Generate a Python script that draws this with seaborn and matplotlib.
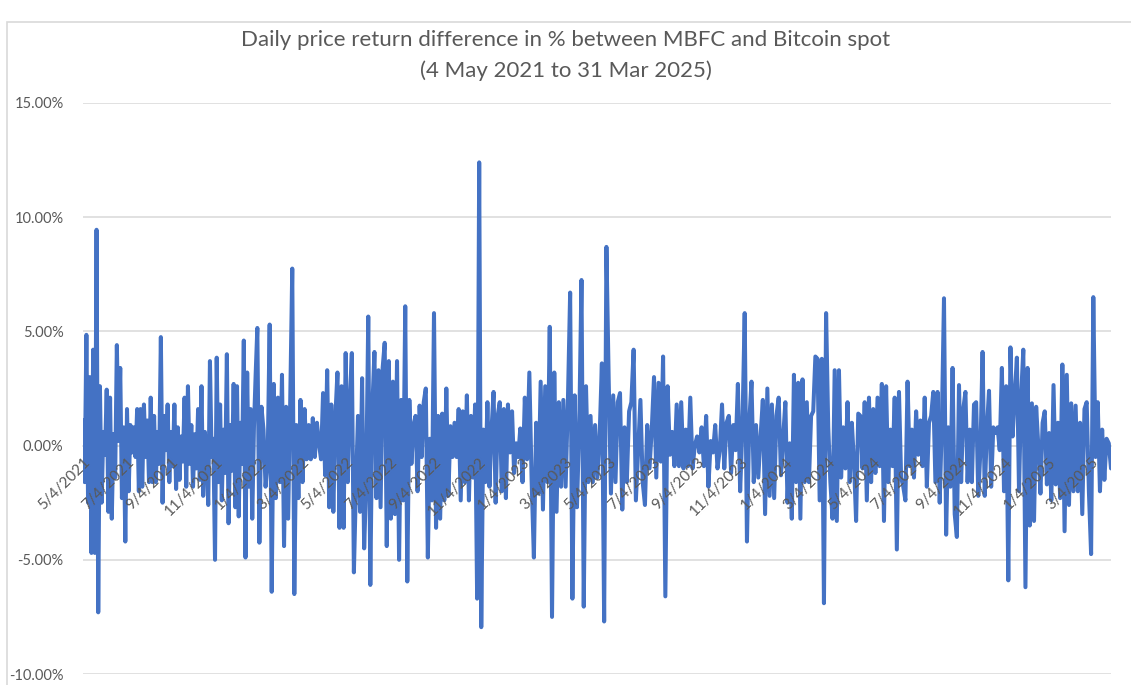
import numpy as np
import pandas as pd
import matplotlib
matplotlib.use("Agg")
import matplotlib.pyplot as plt
from matplotlib.ticker import FuncFormatter
from matplotlib.patches import Rectangle
import seaborn as sns

# ---------------- data (daily return difference, %) ----------------
title_line1 = "Daily price return difference in % between MBFC and Bitcoin spot"
title_line2 = "(4 May 2021 to 31 Mar 2025)"

segment_starts = ["2021-05-04", "2022-01-01", "2023-01-01", "2024-01-01", "2025-01-01"]
series_end = "2025-03-31"

vals_2021 = [1.1, -1.6, 4.85, -2.5, 3.0, -4.7, 4.2, -4.7, 9.45, -7.3,
             2.6, -2.5, 0.6, -0.4, 2.45, -2.9, 2.1, -3.2, 0.5, -1.4,
             4.4, 0.2, 3.4, -2.3, 0.8, -4.2, 1.6, -2.0, 0.9, -0.3,
             0.8, -0.5, 1.6, -2.0, 1.6, -1.8, 1.8, -0.5, 1.1, -1.6,
             2.1, -1.6, 1.3, -1.6, 0.6, -0.8,
             4.75, -2.5, 1.3, -0.2, 1.8, -1.6, 0.6, -0.9, 1.8, -1.9,
             0.8, -1.5, 0.4, -0.7, 2.1, -1.8, 2.6, -0.8, 0.9, -1.8,
             0.5, -1.0, 1.6, -1.5, 2.6, -2.2, 0.6, -0.5, -2.6, 3.7,
             -0.5, 0.3, -5.0, 3.85, -1.6, 1.8, -2.4, 0.7, -1.2, 4.0,
             -3.4, 0.9, -1.1, 2.7, -2.7, 2.6, -3.1, 1.0, -0.8, 4.6,
             -4.9, 3.2, -1.8, 1.6, -3.2, 0.8, 3.1]

vals_2022 = [5.15, -4.25, 1.7, 0.7, -1.8, -0.75, 5.3, -6.4, 2.7, -2.3,
             2.1, -1.6, 3.1, -4.4, 1.7, -3.2, 1.9, 7.75, -6.5,
             0.9, -2.3, 2.0, -1.6, 1.6, -0.6, 0.9, -0.6, 1.2, -0.5,
             1.0, 0.1, -0.6, 2.3, -1.3, 3.3, -2.7, 1.8, -2.9, 1.3,
             3.2, -3.6, 2.6, -3.6,
             4.05, -1.6, 1.9, 4.05, -5.55, -1.8, 1.3, -2.9, 2.95, -4.5,
             -1.6, 5.65, -6.1, 1.7, 4.1, -2.3, 3.3, -2.7, 3.4, 4.5,
             -4.4, 3.7, -3.2, 2.8, -3.0, 3.7, -5.0, 2.0, -2.4, 6.1,
             -5.95,
             2.0, -0.8, 0.9, 1.3, -2.0, 1.75, -0.5, 1.9, 2.5, -4.9,
             0.3, -2.4, 5.8, -3.6, 1.3, -3.2, 1.4, -2.4, 2.5,
             -2.2, 0.85, -0.5, 1.0, -0.5, 1.6, -2.4, 1.5, -1.6, 2.2,
             -2.4, 1.3, -1.4, 1.8, -6.7, 12.4, -7.95, 0.7, -1.6, 1.9,
             -1.8, 0.7, 2.35, -2.5, 1.3, 1.9, -2.0, 1.6, -2.3, 1.8,
             -0.3, 1.5, -1.2, 0.1, -0.5]

vals_2023 = [0.75, -1.6, 2.1, -0.6, 3.2, -1.5, -4.9, 1.0, -2.1, 2.8,
             -2.8, 2.6, -1.6, 5.2, -7.5, 3.2, -2.9, 1.9, -1.8, 2.0,
             -1.8, 1.9, 6.7, -6.7, 2.2, -2.7, 0.8, 7.25, -7.05, 2.6,
             -1.6, 1.3, -1.6, 0.9, -1.4, 0.4, 3.6, -7.7, 8.7, 2.9,
             -2.1, 2.2, -1.6, 1.9, 2.3, -2.8, 0.8, -1.6, 1.5, 1.9,
             4.2, -2.4, -0.2, 2.0, -1.6, -2.6, 0.9, -1.0, 0.7, 3.0,
             -1.4, 2.75, -0.7, 3.9, -6.6, 2.6, -0.4, 0.6, -0.9, 1.8,
             -0.9, 1.9, -1.0, 0.7, -0.9, 2.1, -1.0, 0.0, 0.4, -0.3,
             0.8, -0.9, 1.3, -1.8, 0.2, -0.3, 0.9, -1.0, -0.2, 1.8,
             -1.0, 1.0, 1.3, -1.2, 0.9, -0.2, 2.7, -2.0, 0.8, 5.8,
             -4.2, 1.0, 2.8, -1.6, 0.9, -1.4, 0.4, 2.0, -3.0, 2.5,
             -2.2, 1.8, -2.3, 1.3, 2.1, -1.3]

vals_2024 = [0.4, 1.9, -2.5, 0.1, -3.2, 3.1, -1.6, 2.75, -3.2, 2.9,
             -1.6, 1.9, -1.6, 1.3, 1.5, 3.9, 3.8, -2.4, 3.8, -6.9,
             5.8, 0.8, -1.6, -3.2, 3.3, -3.3, 3.3, -1.4, 0.8, -1.0,
             1.9, -1.6, 1.0, -0.7, -3.3, 1.4, 1.3, -1.0, 1.9, -2.4,
             2.1, -1.6, 1.6, -1.2, 2.1, -0.9, 2.7, -3.3, 2.6, -1.6,
             0.7, -0.9, 2.1, -4.55, 2.35, -1.4, -1.8, -2.4, 2.8, -0.9,
             0.7, -1.4, 1.5, -0.4, 1.1, -0.9, 2.1, -1.8, 1.0, 1.3,
             2.35, -1.6, 2.35, -2.5, 1.0, 6.45, -3.9, 0.8, -1.8, 3.4,
             -3.0, -4.0, 2.65, -1.6, 1.6, 2.35, -1.6, 0.7, -1.6, 1.8,
             1.9, -2.2, -0.2, 4.1, -2.2, 0.7, 2.4, -1.8, 0.8, 0.55,
             0.8, -0.2, 3.4, -2.0, 2.6, -5.9, 4.3, 0.4, 2.2, 3.85,
             -2.0, 2.2, 4.2, -6.2, 3.4, -3.5, 1.85, -3.3, 1.7, 0.0,
             -2.1, 1.0, 1.5]

vals_2025 = [-1.7, 0.55, -2.4, 2.65, -1.7, 1.0, -2.3, 3.55, -3.75, 3.1,
             -2.6, 1.85, -2.0, 1.75, -2.0, 1.0, -3.0, 1.6, 1.9, -2.0,
             -4.75, 6.5, -0.5, 1.9, -2.0, 0.7, -1.5, 0.3, 0.1, -1.0]

tick_labels = ["5/4/2021", "7/4/2021", "9/4/2021", "11/4/2021",
               "1/4/2022", "3/4/2022", "5/4/2022", "7/4/2022", "9/4/2022", "11/4/2022",
               "1/4/2023", "3/4/2023", "5/4/2023", "7/4/2023", "9/4/2023", "11/4/2023",
               "1/4/2024", "3/4/2024", "5/4/2024", "7/4/2024", "9/4/2024", "11/4/2024",
               "1/4/2025", "3/4/2025"]

y_ticks = [-10, -5, 0, 5, 10, 15]

# ---------------- build table ----------------
segments = [vals_2021, vals_2022, vals_2023, vals_2024, vals_2025]
bounds = segment_starts + [series_end]
frames = []
for i, vals in enumerate(segments):
    last = (i == len(segments) - 1)
    n = len(vals) if last else len(vals) + 1
    d = pd.date_range(bounds[i], bounds[i + 1], periods=n)
    if not last:
        d = d[:-1]
    frames.append(pd.DataFrame({"date": d, "diff": vals}))
df = pd.concat(frames, ignore_index=True)

# ---------------- style ----------------
sns.set_theme(style="white")
plt.rcParams["font.family"] = ["Lato", "DejaVu Sans"]

W, H = 1131, 685
fig = plt.figure(figsize=(W / 100, H / 100), dpi=100)
fig.patch.set_facecolor("white")

# chart-area border
fig.patches.append(Rectangle((7 / W, -0.2), 1.2, 1.2 - 22 / H,
                             transform=fig.transFigure, fill=False,
                             edgecolor="#D9D9D9", linewidth=1.2, zorder=0))

ax = fig.add_axes([83 / W, 11 / H, 1028 / W, 571 / H])
ax.grid(False)
for yv in y_ticks:
    ax.axhline(yv, color="#D9D9D9", linewidth=1.1, zorder=0.5)

sns.lineplot(data=df, x="date", y="diff", ax=ax, color="#4472C4",
             linewidth=2.9, zorder=3)

ax.set_ylim(-10, 15)
ax.set_yticks(y_ticks)
ax.yaxis.set_major_formatter(FuncFormatter(lambda v, p: f"{v:.2f}%"))
ax.set_xlim(pd.Timestamp(segment_starts[0]), pd.Timestamp(series_end))

for s in ["top", "right", "left"]:
    ax.spines[s].set_visible(False)
ax.spines["bottom"].set_position(("data", 0))
ax.spines["bottom"].set_color("#D9D9D9")
ax.spines["bottom"].set_linewidth(1.1)
ax.spines["bottom"].set_zorder(0.6)

tick_pos = pd.to_datetime(tick_labels, format="%m/%d/%Y")
ax.set_xticks(tick_pos)
ax.set_xticklabels(tick_labels, rotation=45, ha="right", va="top",
                   rotation_mode="anchor")
ax.tick_params(axis="x", length=0, pad=7, labelsize=11, labelcolor="#595959")
ax.tick_params(axis="y", length=0, pad=14, labelsize=10.5, labelcolor="#595959")
ax.xaxis.set_zorder(5)
ax.set_xlabel("")
ax.set_ylabel("")

fig.text(0.5, 1 - 40 / H, title_line1, ha="center", va="center",
         fontsize=16, color="#595959")
fig.text(0.5, 1 - 71 / H, title_line2, ha="center", va="center",
         fontsize=16, color="#595959")

fig.savefig("out.png", dpi=100, facecolor="white")
